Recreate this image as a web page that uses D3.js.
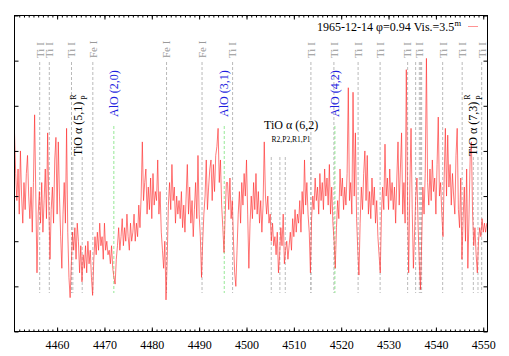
<!DOCTYPE html>
<html>
<head>
<meta charset="utf-8">
<script src="https://cdn.jsdelivr.net/npm/d3@7"></script>
<style>
  body { margin: 0; background: #fff; }
  text { font-family: "Liberation Serif", "Times New Roman", serif; }
</style>
</head>
<body>
<div id="chart"></div>
<script>
const waveStart = 4451, waveStep = 0.25;
const flux = [
  4.4, 3.5, 2.9, 3.6, 2.6, 4.0, 3.0, 2.4, 3.3, 2.7, 3.5, 3.9, 3.0, 2.5, 3.2, 2.2, 3.3, 4.8, 3.0, 1.3,
  2.6, 3.1, 2.4, 3.3, 2.2, 2.9, 3.6, 2.5, 4.4, 2.8, 1.6, 2.7, 3.2, 2.4, 3.8, 4.3, 2.6, 4.2, 3.0, 2.1,
  1.4, 2.6, 3.3, 2.4, 4.5, 2.2, 1.2, 0.75, 1.5, 2.2, 1.8, 2.3, 1.6, 2.4, 2.0, 1.3, 1.9, 1.1, 1.7, 1.4,
  1.9, 1.3, 2.0, 1.5, 1.8, 1.2, 0.8, 1.6, 2.1, 1.7, 2.2, 1.8, 2.4, 1.9, 2.1, 1.6, 2.4, 1.8, 2.0, 1.7,
  1.8, 1.5, 1.9, 1.4, 1.2, 1.05, 1.6, 1.9, 2.3, 1.8, 2.1, 2.5, 1.9, 2.3, 2.0, 2.6, 2.1, 1.8, 2.4, 2.0,
  2.2, 2.6, 2.0, 2.4, 2.1, 2.8, 2.3, 3.0, 4.2, 2.9, 3.3, 3.6, 2.6, 3.2, 2.7, 3.4, 2.5, 3.5, 2.8, 3.1,
  2.9, 3.8, 2.6, 3.1, 2.2, 1.8, 1.4, 2.0, 0.7, 1.6, 2.8, 3.3, 2.7, 3.7, 2.9, 3.2, 2.4, 3.0, 2.6, 2.9,
  2.5, 3.1, 2.3, 2.8, 2.2, 3.0, 3.7, 2.6, 3.2, 2.4, 2.9, 2.1, 2.7, 3.3, 2.5, 3.9, 2.6, 2.1, 1.2, 2.0,
  2.6, 3.0, 3.8, 2.7, 3.2, 3.6, 3.8, 2.9, 3.7, 3.1, 3.9, 4.1, 4.5, 3.3, 3.8, 2.8, 2.3, 1.75, 2.6, 3.3,
  3.3, 2.7, 3.4, 2.5, 2.9, 2.0, 1.3, 1.0, 1.8, 2.6, 3.1, 2.4, 3.3, 2.8, 3.5, 3.0, 3.8, 2.6, 1.4, 2.4,
  3.0, 2.5, 3.3, 2.7, 3.5, 2.6, 3.1, 2.4, 2.9, 2.2, 2.8, 4.2, 3.0, 2.6, 3.0, 2.4, 2.6, 2.0, 2.4, 1.9,
  2.1, 1.7, 2.2, 1.3, 1.7, 2.3, 1.9, 2.6, 1.5, 1.8, 2.0, 1.6, 1.9, 2.2, 1.8, 2.5, 2.1, 2.7, 2.2, 2.6,
  2.4, 2.9, 2.2, 3.1, 2.6, 3.8, 2.8, 3.3, 2.6, 2.2, 1.3, 2.5, 3.0, 2.7, 3.4, 2.9, 3.2, 2.6, 3.5, 2.9,
  3.3, 2.7, 3.6, 3.0, 3.4, 2.8, 3.7, 2.6, 3.2, 2.4, 2.0, 1.4, 2.3, 2.9, 2.5, 3.6, 3.0, 3.4, 2.7, 3.2,
  2.8, 3.5, 5.4, 2.9, 3.3, 2.6, 5.3, 3.0, 4.4, 2.5, 1.8, 1.25, 2.4, 3.2, 2.7, 3.5, 4.0, 2.9, 3.9, 2.6,
  3.1, 2.5, 3.4, 2.8, 3.2, 2.4, 2.9, 2.1, 1.7, 1.3, 2.6, 3.2, 2.7, 4.15, 3.0, 3.4, 2.7, 3.6, 2.9, 3.3,
  2.7, 3.2, 2.4, 3.4, 4.2, 2.8, 3.6, 4.4, 2.6, 3.3, 2.4, 5.8, 3.0, 1.3, 3.2, 4.5, 2.7, 1.4, 2.2, 3.0,
  3.4, 2.3, 1.5, 0.93, 2.0, 3.2, 2.6, 3.5, 6.05, 3.3, 2.8, 3.6, 2.9, 3.8, 3.1, 3.4, 2.6, 3.7, 4.75, 3.0,
  3.3, 2.6, 2.1, 3.4, 4.5, 3.0, 4.35, 3.2, 3.7, 2.8, 3.5, 3.0, 2.6, 3.9, 4.5, 2.7, 2.3, 3.4, 1.6, 2.5,
  3.2, 2.0, 3.6, 1.4, 2.6, 3.9, 4.2, 2.6, 1.9, 2.3, 1.7, 1.3, 2.0, 2.3, 2.1, 2.5, 2.2, 2.4, 2.2, 2.4
];

// atomic line identifications
const atomWaves = [4456.32, 4458.35, 4463.04, 4467.54, 4483.11, 4490.61, 4497.06, 4513.6,
                   4518.46, 4523.57, 4528.22, 4534.03, 4536.5, 4541.43, 4545.55, 4549.67];
const atomNames = ["Ti I", "Ti I", "Ti I", "Fe I", "Fe I", "Fe I", "Ti I", "Ti I",
                   "Ti I", "Ti I", "Ti I", "Ti I", "Ti I", "Ti I", "Ti I", "Ti I"];
const extraWaves = [4535.72, 4536.78, 4536.99];

// molecular band heads
const aloWaves = [4471.98, 4495.3, 4518.67];
const aloNames = ["AlO (2,0)", "AlO (3,1)", "AlO (4,2)"];
const tio51Waves = [4463.32, 4465.3];
const tio62Waves = [4505.23, 4507.05, 4508.19, 4513.6];
const tio73Waves = [4547.91, 4548.89];

const xTicks = d3.range(4460, 4551, 10);
const xMinor = d3.range(4452, 4551, 1);
const yTicks = d3.range(0, 8);
const legendText = "1965-12-14 φ=0.94 Vis.=3.5";

const width = 509, height = 356;
const x = d3.scaleLinear().domain([4451, 4550.9]).range([14.5, 487.5]);
const y = d3.scaleLinear().domain([0, 7]).range([331.5, 15.5]);

const svg = d3.select("#chart").append("svg")
  .attr("width", width)
  .attr("height", height);

// identification lines
const lineTop = 62, lineBottom = 293, aloTop = 126, tioTop = 157;
const marks = svg.append("g").attr("fill", "none").attr("stroke-dasharray", "3,2").attr("stroke-width", 0.8);

marks.selectAll(".atom")
  .data(atomWaves.concat(extraWaves))
  .join("line")
  .attr("x1", d => x(d)).attr("x2", d => x(d))
  .attr("y1", lineTop).attr("y2", lineBottom)
  .attr("stroke", "#a8a8a8");

marks.selectAll(".tio")
  .data(tio51Waves.concat(tio62Waves, tio73Waves))
  .join("line")
  .attr("x1", d => x(d)).attr("x2", d => x(d))
  .attr("y1", tioTop).attr("y2", lineBottom)
  .attr("stroke", "#a8a8a8");

marks.selectAll(".alo")
  .data(aloWaves)
  .join("line")
  .attr("x1", d => x(d)).attr("x2", d => x(d))
  .attr("y1", aloTop).attr("y2", lineBottom)
  .attr("stroke", "#7be27b");

// spectrum
const line = d3.line()
  .x((d, i) => x(waveStart + i * waveStep))
  .y(d => y(d));

svg.append("path")
  .datum(flux)
  .attr("fill", "none")
  .attr("stroke", "#ff2a2a")
  .attr("stroke-opacity", 0.8)
  .attr("stroke-width", 0.8)
  .attr("d", line);

// rotated labels
function vlabel(px, py, txt, size, color) {
  return svg.append("text")
    .attr("transform", `translate(${px},${py}) rotate(-90)`)
    .attr("dy", "0.35em")
    .attr("font-size", size)
    .attr("fill", color)
    .text(txt);
}

atomWaves.forEach((w, i) => vlabel(x(w), 58, atomNames[i], 11, "#9a9a9a"));
aloWaves.forEach((w, i) => vlabel(x(w), 117, aloNames[i], 12, "#1f1fe0"));

function tioLabel(px, name) {
  const t = vlabel(px, 156, name, 12, "#000");
  const len = t.node().getComputedTextLength();
  svg.append("text")
    .attr("transform", `translate(${px},${156 - len - 2}) rotate(-90)`)
    .attr("dy", "-0.25em").attr("font-size", 8).text("R");
  svg.append("text")
    .attr("transform", `translate(${px},${156 - len - 2}) rotate(-90)`)
    .attr("dy", "1.15em").attr("font-size", 8).text("P");
}
tioLabel(x(tio51Waves[0]) + 5, "TiO α (5,1)");
tioLabel(x(tio73Waves[0]) - 1, "TiO α (7,3)");

const cx62 = (x(tio62Waves[0]) + x(tio62Waves[3])) / 2;
svg.append("text").attr("x", cx62).attr("y", 129)
  .attr("text-anchor", "middle").attr("font-size", 12).text("TiO α (6,2)");
svg.append("text").attr("x", cx62).attr("y", 142)
  .attr("text-anchor", "middle").attr("font-size", 7.5).text("R2,P2,R1,P1");

// axes (ticks inside, mirrored)
function styleAxis(g) {
  g.select(".domain").remove();
  g.selectAll("line").attr("stroke", "#000");
  g.selectAll("text").attr("font-family", "Liberation Serif, serif").attr("font-size", 12).attr("fill", "#000");
}
svg.append("g").attr("transform", `translate(0,${y(0)})`)
  .call(d3.axisBottom(x).tickValues(xTicks).tickSize(-4).tickSizeOuter(0).tickPadding(8.5).tickFormat(d3.format("d")))
  .call(styleAxis);
svg.append("g").attr("transform", `translate(0,${y(0)})`)
  .call(d3.axisBottom(x).tickValues(xMinor).tickSize(-2).tickSizeOuter(0).tickFormat(""))
  .call(styleAxis);
svg.append("g").attr("transform", `translate(0,${y(7)})`)
  .call(d3.axisTop(x).tickValues(xTicks).tickSize(-4).tickSizeOuter(0).tickFormat(""))
  .call(styleAxis);
svg.append("g").attr("transform", `translate(0,${y(7)})`)
  .call(d3.axisTop(x).tickValues(xMinor).tickSize(-2).tickSizeOuter(0).tickFormat(""))
  .call(styleAxis);
svg.append("g").attr("transform", `translate(${x.range()[0]},0)`)
  .call(d3.axisLeft(y).tickValues(yTicks).tickSize(-4).tickSizeOuter(0).tickFormat(""))
  .call(styleAxis);
svg.append("g").attr("transform", `translate(${x.range()[1]},0)`)
  .call(d3.axisRight(y).tickValues(yTicks).tickSize(-4).tickSizeOuter(0).tickFormat(""))
  .call(styleAxis);

svg.append("rect")
  .attr("x", x.range()[0]).attr("y", y(7))
  .attr("width", x.range()[1] - x.range()[0])
  .attr("height", y(0) - y(7))
  .attr("fill", "none").attr("stroke", "#000").attr("stroke-width", 1);

// key
const key = svg.append("text").attr("x", 461).attr("y", 31)
  .attr("text-anchor", "end").attr("font-size", 12);
key.append("tspan").text(legendText);
key.append("tspan").attr("dy", -5).attr("font-size", 8.5).text("m");
svg.append("line")
  .attr("x1", 468).attr("x2", 478).attr("y1", 26.5).attr("y2", 26.5)
  .attr("stroke", "#ff2a2a").attr("stroke-opacity", 0.5).attr("stroke-width", 1);
</script>
</body>
</html>
